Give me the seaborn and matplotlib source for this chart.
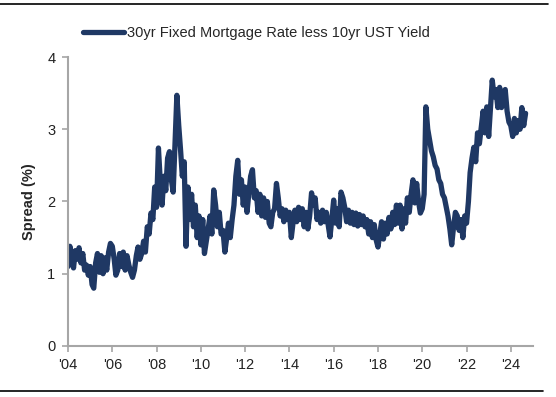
import pandas as pd
import seaborn as sns
import matplotlib.pyplot as plt
from matplotlib.lines import Line2D

# monthly spread (%)
y2004 = [1.10, 1.38, 1.25, 1.08, 1.32, 1.20, 1.36, 1.15, 1.28, 1.05, 1.12, 0.98]
y2005 = [1.10, 0.85, 0.80, 1.15, 1.28, 1.02, 1.25, 1.00, 1.22, 1.05, 1.30, 1.42]
y2006 = [1.38, 1.20, 0.98, 1.05, 1.28, 1.10, 1.30, 1.05, 1.25, 1.12, 1.02, 0.95]
y2007 = [1.05, 1.25, 1.37, 1.20, 1.28, 1.45, 1.30, 1.65, 1.55, 1.84, 1.75, 2.20]
y2008 = [1.92, 2.74, 2.30, 1.95, 2.35, 2.15, 2.60, 2.69, 2.30, 2.13, 2.80, 3.47]
y2009 = [3.05, 2.70, 2.35, 2.55, 1.38, 2.20, 1.75, 2.10, 1.65, 1.95, 1.50, 1.80]
y2010 = [1.40, 1.75, 1.28, 1.45, 1.62, 1.80, 1.55, 2.16, 1.95, 1.65, 1.85, 1.55]
y2011 = [1.60, 1.30, 1.48, 1.70, 1.50, 1.75, 1.95, 2.35, 2.57, 2.10, 2.30, 1.95]
y2012 = [2.20, 1.85, 2.10, 2.35, 2.44, 2.05, 2.15, 1.85, 2.10, 1.80, 2.05, 1.78]
y2013 = [2.00, 1.70, 1.65, 1.85, 1.90, 2.25, 2.05, 1.80, 1.90, 1.72, 1.88, 1.75]
y2014 = [1.85, 1.50, 1.70, 1.88, 1.72, 1.92, 1.75, 1.90, 1.65, 1.85, 1.62, 1.80]
y2015 = [2.12, 1.95, 2.05, 1.75, 1.85, 1.70, 1.88, 1.72, 1.85, 1.68, 1.51, 1.75]
y2016 = [2.02, 1.70, 1.90, 1.65, 2.13, 2.05, 1.92, 1.72, 1.88, 1.70, 1.85, 1.68]
y2017 = [1.84, 1.66, 1.82, 1.68, 1.80, 1.65, 1.75, 1.55, 1.72, 1.50, 1.68, 1.47]
y2018 = [1.37, 1.55, 1.72, 1.48, 1.70, 1.55, 1.78, 1.62, 1.85, 1.68, 1.95, 1.70]
y2019 = [1.95, 1.62, 1.90, 1.70, 2.05, 1.85, 2.10, 2.30, 1.98, 2.25, 2.00, 1.84]
y2020 = [1.90, 2.10, 3.31, 3.00, 2.85, 2.70, 2.62, 2.50, 2.45, 2.30, 2.25, 2.10]
y2021 = [2.05, 1.92, 1.80, 1.62, 1.40, 1.65, 1.85, 1.80, 1.60, 1.75, 1.50, 1.80]
y2022 = [1.70, 2.00, 2.40, 2.60, 2.75, 2.55, 2.95, 2.80, 3.03, 3.25, 2.95, 3.31]
y2023 = [2.90, 3.30, 3.68, 3.45, 3.55, 3.30, 3.58, 3.30, 3.50, 3.55, 3.25, 3.10]
y2024 = [3.05, 2.90, 3.15, 2.95, 3.12, 3.00, 3.30, 3.05, 3.22]

series_label = '30yr Fixed Mortgage Rate less 10yr UST Yield'
tick_years = list(range(2004, 2025, 2))
tick_labels = ["'" + str(y)[2:] for y in tick_years]
y_ticks = [0, 1, 2, 3, 4]

spread = (y2004 + y2005 + y2006 + y2007 + y2008 + y2009 + y2010 + y2011 + y2012 + y2013
          + y2014 + y2015 + y2016 + y2017 + y2018 + y2019 + y2020 + y2021 + y2022 + y2023 + y2024)
df = pd.DataFrame({'date': pd.date_range('2004-01-01', periods=len(spread), freq='MS'),
                   'spread': spread})

sns.set_style('ticks')
plt.rcParams['font.family'] = ['Liberation Sans', 'DejaVu Sans']

fig = plt.figure(figsize=(5.56, 3.97), dpi=100)
ax = fig.add_axes([0.1223, 0.1285, 0.8363, 0.7279])
sns.lineplot(data=df, x='date', y='spread', ax=ax, color='#1F3864', linewidth=3.8,
             label=series_label)

ax.set_xlim(pd.Timestamp('2004-01-01'), pd.Timestamp('2025-01-01'))
ax.set_ylim(0, 4)
ax.set_xticks([pd.Timestamp(f'{y}-01-01') for y in tick_years])
ax.set_xticklabels(tick_labels)
ax.set_yticks(y_ticks)
ax.set_xlabel('')
ax.set_ylabel('Spread (%)', fontweight='bold', fontsize=10.5, labelpad=8)
ax.tick_params(axis='both', direction='out', length=4, width=1.2, color='#A6A6A6',
               labelsize=10.5, labelcolor='#222222', pad=5)
sns.despine(ax=ax)
for s in ['left', 'bottom']:
    ax.spines[s].set_color('#A6A6A6')
    ax.spines[s].set_linewidth(1.5)

handles, labels = ax.get_legend_handles_labels()
ax.get_legend().remove()
fig.legend(handles, labels, loc='center left', bbox_to_anchor=(0.15, 0.917), frameon=False,
           handlelength=2.8, handletextpad=0.2, borderpad=0, borderaxespad=0, fontsize=10.5)

# horizontal rules above and below the chart
fig.add_artist(Line2D([0, 0.985], [1 - 4 / 397] * 2, color='black', lw=1.2, transform=fig.transFigure))
fig.add_artist(Line2D([0, 0.977], [1 - 391 / 397] * 2, color='black', lw=1.2, transform=fig.transFigure))

fig.savefig('out.png', dpi=100)
